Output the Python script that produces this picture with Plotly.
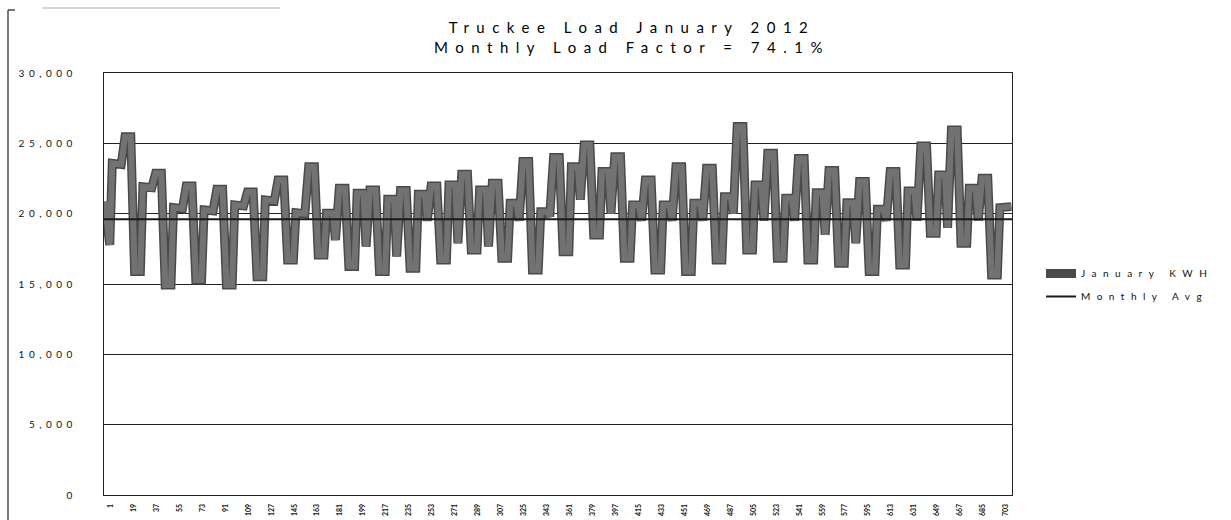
import plotly.graph_objects as go

# ---- data (kW, per day) ----
start_kwh = 20850          # first hour of the month
# early-morning trough, morning shoulder, mid-day level, evening peak
day_trough = [17780, 15880, 14930, 15290, 14930, 15520, 16710, 17060, 16240, 15880,
              16120, 16710, 17420, 16830, 16000, 17300, 18490, 16830, 16000, 15880,
              16710, 17420, 16830, 16710, 16470, 15880, 16350, 18600, 17890, 15640]
day_shoulder = [23580, 21920, 20430, 20260, 20620, 20970, 20070, 20030, 21450, 21020,
                21380, 22040, 21680, 20740, 20140, 23340, 22990, 20620, 20620, 20740,
                21210, 22040, 21090, 21490, 20780, 20310, 21610, 22750, 21800, 20430]
day_midday = [23500, 21850, 20350, 20200, 20550, 20900, 20000, 18130, 17660, 16950,
              19500, 17890, 17660, 19500, 19800, 21000, 20000, 19500, 19500, 19500,
              20000, 19500, 19500, 18500, 17900, 19500, 19500, 19000, 19500]
day_peak = [25470, 22870, 21970, 21730, 21540, 22390, 23340, 21800, 21680, 21640,
            21970, 22800, 22160, 23700, 23990, 24880, 24050, 22390, 23340, 23220,
            26190, 24290, 23930, 23060, 22280, 22990, 24810, 25950, 22510]
end_kwh = 20500            # last hour shown
last_hour = 712
monthly_avg = 19600

tick_hours = list(range(1, 704, 18))
tick_text = [str(h) for h in tick_hours]

# ---- build hourly turning points ----
hours = [1]
kwh = [start_kwh]
n_full = len(day_peak)
for d in range(n_full + 1):
    b = 24 * d
    if d > 0:
        hours.append(b + 0.5)
        kwh.append(day_trough[d])
    hours += [b + 5, b + 7, b + 12]
    kwh += [day_trough[d], day_shoulder[d], day_shoulder[d]]
    if d < n_full:
        hours += [b + 14, b + 17, b + 21.5]
        kwh += [day_midday[d], day_peak[d], day_peak[d]]
hours.append(last_hour)
kwh.append(end_kwh)

FONT = "Lato"

fig = go.Figure()
fig.add_trace(go.Scatter(
    x=hours, y=kwh, mode="lines", name="January KWH",
    line=dict(color="#4a4a4a", width=9), legendgroup="a"))
fig.add_trace(go.Scatter(
    x=hours, y=kwh, mode="lines", showlegend=False, hoverinfo="skip",
    line=dict(color="#727272", width=6)))
fig.add_trace(go.Scatter(
    x=[0.5, last_hour + 0.5], y=[monthly_avg, monthly_avg], mode="lines",
    name="Monthly Avg", line=dict(color="#1a1a1a", width=2), legendgroup="b"))

W, H = 1231, 520
L, R, T, B = 104, 1012, 73, 495
pw, ph = R - L, B - T

def px(x):
    return (x - L) / pw

def py(y):
    return (B - y) / ph

fig.update_layout(
    width=W, height=H,
    margin=dict(l=L, r=W - R, t=T, b=H - B, autoexpand=False),
    paper_bgcolor="white", plot_bgcolor="white",
    font=dict(family=FONT, color="#111"),
    title=dict(text="Truckee Load January 2012<br>Monthly Load Factor = 74.1%",
               x=px(632), xref="paper", xanchor="center",
               y=1 - 33 / H, yref="container", yanchor="top",
               font=dict(family=FONT, size=15, color="#000")),
    showlegend=True,
    legend=dict(x=px(1041), y=py(259), xanchor="left", yanchor="top",
                font=dict(family=FONT, size=10, color="#111"),
                bgcolor="rgba(0,0,0,0)", tracegroupgap=4),
    xaxis=dict(range=[0.5, last_hour + 0.5], showgrid=False, zeroline=False,
               showline=True, linecolor="#222", linewidth=1.2, mirror=True,
               automargin=False,
               tickmode="array", tickvals=tick_hours, ticktext=tick_text,
               tickangle=-90, ticklabelshift=6, ticklabelstandoff=5, ticks="",
               tickfont=dict(family=FONT, size=7, color="#111", weight="bold")),
    yaxis=dict(range=[0, 30000], tickvals=[0, 5000, 10000, 15000, 20000, 25000, 30000],
               tickformat=",d", showgrid=True, gridcolor="#222", gridwidth=1.2,
               zeroline=False, showline=True, linecolor="#222", linewidth=1.2,
               mirror=True, ticks="", ticklabelstandoff=24, automargin=False,
               tickfont=dict(family=FONT, size=10, color="#111")),
    shapes=[
        dict(type="line", xref="paper", yref="paper", x0=px(8), x1=px(8),
             y0=py(520), y1=py(10), line=dict(color="#222", width=1.2)),
        dict(type="line", xref="paper", yref="paper", x0=px(8), x1=px(15),
             y0=py(10), y1=py(10), line=dict(color="#222", width=1.2)),
        dict(type="line", xref="paper", yref="paper", x0=px(42), x1=px(280),
             y0=py(8), y1=py(8), line=dict(color="#c8c8c8", width=1.5)),
    ],
)

css_js = """
var st = document.createElement('style');
st.textContent = 'html,body{margin:0 !important;padding:0 !important;overflow:hidden;}'
 + ' .gtitle{letter-spacing:7.5px !important;}'
 + ' .ytick text{letter-spacing:4.5px !important; font-weight:600;}'
 + ' .legendtext{letter-spacing:6.5px !important;}'
 + ' .legend .scrollbox, .legend{clip-path:none !important;}';
document.head.appendChild(st);
"""
fig.write_html("out.html", post_script=css_js, config={"displayModeBar": False})
